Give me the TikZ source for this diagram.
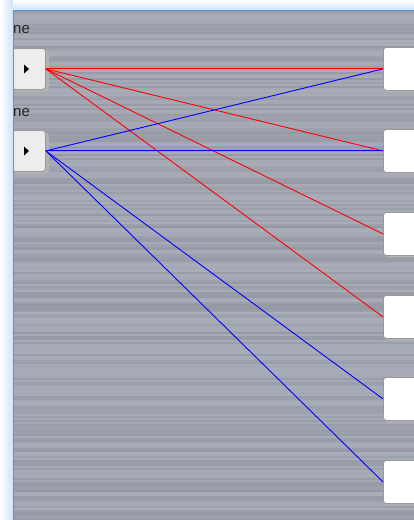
\documentclass[tikz,border=0pt]{standalone}
\usepackage{fontspec}
\setmainfont{Liberation Sans}
\begin{document}
\begin{tikzpicture}[x=1pt,y=-1pt,
  btn/.style={draw=black!40,line width=0.8pt,fill=white!93!black,rounded corners=3pt,
    minimum width=33pt,minimum height=41pt,inner sep=0pt,anchor=north west},
  tgt/.style={draw=black!40,line width=0.8pt,fill=white,rounded corners=3pt,
    minimum width=46pt,minimum height=43pt,inner sep=0pt,anchor=north west},
  shd/.style={fill=black!30,rounded corners=4pt},
  lbl/.style={font=\fontsize{15pt}{16pt}\selectfont,text=black!85,inner sep=0pt,anchor=base west},
  redl/.style={draw=red,line width=0.9pt},
  bluel/.style={draw=blue,line width=0.9pt}]
\definecolor{panel}{RGB}{163,167,179}
\definecolor{frameblue}{RGB}{80,150,230}
\definecolor{lightfr}{RGB}{205,228,250}
\useasboundingbox (0,0) rectangle (414,520);
% outer frame gradient
\shade[left color=white,right color=lightfr] (0,0) rectangle (13,520);
\shade[top color=white,bottom color=lightfr] (13,0) rectangle (414,10);
% panel
\fill[panel] (14,11) rectangle (414,520);
\pgfmathsetseed{7}
\begin{scope}
\clip (14,11) rectangle (414,520);
\foreach \yy in {11,13,...,520}{
  \pgfmathsetmacro{\op}{0.02+0.06*rnd}
  \pgfmathsetmacro{\sh}{rnd}
  \ifdim \sh pt>0.5pt
    \draw[white,opacity=\op,line width=1.6pt] (14,\yy) -- (414,\yy);
  \else
    \draw[black,opacity=\op,line width=1.6pt] (14,\yy) -- (414,\yy);
  \fi
}
\end{scope}
\draw[frameblue,line width=1.5pt] (13.5,520) -- (13.5,10.5) -- (414,10.5);
\begin{scope}
\clip (14,11) rectangle (414,520);
% labels
\node[lbl] (l1) at (13,33) {ne};
\node[lbl] (l2) at (13,116) {ne};
% buttons
\fill[shd] (12,50) rectangle (49,92);
\node[btn] (b1) at (12,48) {};
\fill[shd] (12,132) rectangle (49,174);
\node[btn] (b2) at (12,130) {};
\fill[black] (24,64.5) -- (29,69) -- (24,73.5) -- cycle;
\fill[black] (24,146.5) -- (29,151) -- (24,155.5) -- cycle;
% targets
\fill[shd] (384,49) rectangle (430,92);
\node[tgt] (r1) at (383,47) {};
\fill[shd] (384,131) rectangle (430,174);
\node[tgt] (r2) at (383,129) {};
\fill[shd] (384,214) rectangle (430,257);
\node[tgt] (r3) at (383,212) {};
\fill[shd] (384,297) rectangle (430,340);
\node[tgt] (r4) at (383,295) {};
\fill[shd] (384,379) rectangle (430,422);
\node[tgt] (r5) at (383,377) {};
\fill[shd] (384,462) rectangle (430,505);
\node[tgt] (r6) at (383,460) {};
\end{scope}
% connectors
\draw[redl] (b1.east) -- (r1.west);
\draw[redl] (b1.east) -- (r2.west);
\draw[redl] (b1.east) -- (r3.west);
\draw[redl] (b1.east) -- (r4.west);
\draw[bluel] (b2.east) -- (r1.west);
\draw[bluel] (b2.east) -- (r2.west);
\draw[bluel] (b2.east) -- (r5.west);
\draw[bluel] (b2.east) -- (r6.west);
\end{tikzpicture}
\end{document}
